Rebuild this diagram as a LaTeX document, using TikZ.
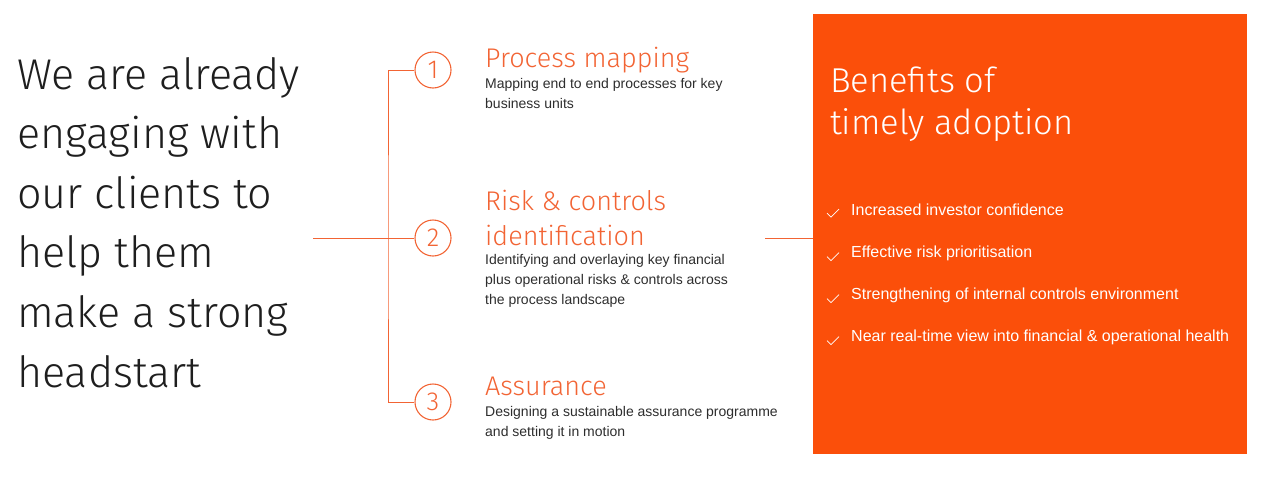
\documentclass[tikz,border=0pt]{standalone}
\usepackage{fontspec}
\setmainfont{Liberation Sans}
\newfontfamily\lightfont{Fira Sans Light}
\usetikzlibrary{positioning}
\definecolor{brand}{RGB}{251,79,10}
\definecolor{accent}{RGB}{242,100,52}
\definecolor{ink}{RGB}{30,30,30}
\definecolor{bodyink}{RGB}{45,45,45}

\begin{document}
\begin{tikzpicture}[x=1pt, y=-1pt,
  lead/.style={font=\lightfont\fontsize{43}{59.6}\selectfont, text=ink, align=left, anchor=north west, inner sep=0pt},
  num/.style={circle, draw=accent, line width=1.1pt, minimum size=36pt, inner sep=0pt, text=accent, font=\lightfont\fontsize{26}{26}\selectfont},
  title/.style={font=\lightfont\fontsize{27}{35}\selectfont, text=accent, align=left, anchor=north west, inner sep=0pt},
  body/.style={font=\fontsize{14}{20.3}\selectfont, text=bodyink, align=left, anchor=north west, inner sep=0pt},
  link/.style={draw=accent, line width=1pt},
  panel/.style={fill=brand, minimum width=434pt, minimum height=440pt, inner sep=0pt},
  perk/.style={font=\fontsize{16}{16}\selectfont, text=white, anchor=north west, inner sep=0pt}]
\useasboundingbox (0,0) rectangle (1280,480);

% left statement
\node[lead] (intro) at (17,57) {We are already\\engaging with\\our clients to\\help them\\make a strong\\headstart};

% numbered steps
\node[num] (n1) at (433,70)  {1};
\node[num] (n2) at (433,238) {2};
\node[num] (n3) at (433,402) {3};

\node[title] (t1) at (485,47)  {Process mapping};
\node[body]  (b1) at (485,78)  {Mapping end to end processes for key\\business units};
\node[title] (t2) at (485,190) {Risk \& controls\\identification};
\node[body]  (b2) at (485,254) {Identifying and overlaying key financial\\plus operational risks \& controls across\\the process landscape};
\node[title] (t3) at (485,377) {Assurance};
\node[body]  (b3) at (485,406) {Designing a sustainable assurance programme\\and setting it in motion};

% bracket
\coordinate (spine) at (388,238);
\coordinate (feed) at (313,238);
\draw[link] (n1.west) -| (spine) |- (n3.west);
\draw[link] (feed) -- (n2.west);

% benefits panel
\node[panel] (panel) at (1030,234) {};
\coordinate (tap) at (765,238);
\draw[link] (tap) -- (tap -| panel.west);
\node[font=\lightfont\fontsize{34.5}{42}\selectfont, text=white, align=left, anchor=north west, inner sep=0pt] (head) at (830,67) {Benefits of\\timely adoption};

\foreach \txt [count=\i] in {Increased investor confidence, Effective risk prioritisation,
  Strengthening of internal controls environment, Near real-time view into financial \& operational health} {
  \node[perk] (p\i) at (851,{204+42*(\i-1)}) {\txt};
  \draw[white, line width=0.7pt] (p\i.west) ++(-24,3) -- ++(4,4) -- ++(8,-8);
}
\end{tikzpicture}
\end{document}
